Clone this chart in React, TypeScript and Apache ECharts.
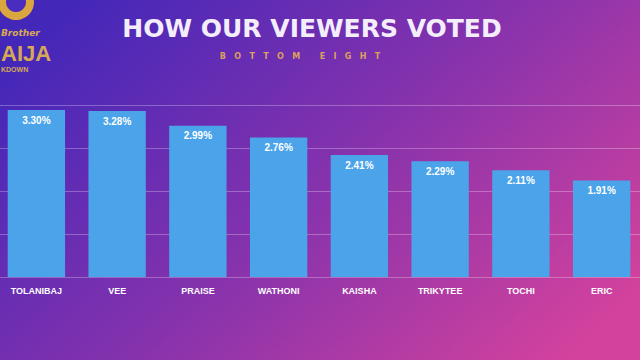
import React, { useEffect, useRef } from "react";
import * as echarts from "echarts";

const categories = ["TOLANIBAJ", "VEE", "PRAISE", "WATHONI", "KAISHA", "TRIKYTEE", "TOCHI", "ERIC"];
const votes = [3.3, 3.28, 2.99, 2.76, 2.41, 2.29, 2.11, 1.91];
const titleText = "HOW OUR VIEWERS VOTED";
const subtitleText = "B   O   T   T   O   M       E   I   G   H   T";

export default function App() {
  const ref = useRef<HTMLDivElement>(null);
  useEffect(() => {
    if (!ref.current) return;
    const chart = echarts.init(ref.current, null, { renderer: "svg" });
    chart.setOption({
      animation: false,
      backgroundColor: new echarts.graphic.LinearGradient(0, 0.2, 1, 0.8, [
        { offset: 0, color: "#4327b9" },
        { offset: 0.5, color: "#8532ad" },
        { offset: 1, color: "#d3429d" },
      ]),
      title: [
        {
          text: titleText,
          left: 311,
          top: 11,
          textAlign: "center",
          textStyle: { color: "#f4eefc", fontSize: 25, fontWeight: "bold", fontFamily: "DejaVu Sans" },
        },
        {
          text: subtitleText,
          left: 299,
          top: 47,
          textAlign: "center",
          textStyle: { color: "#dca061", fontSize: 8, fontWeight: "bold", fontFamily: "DejaVu Sans" },
        },
      ],
      graphic: [
        { type: "circle", shape: { cx: 20, cy: 2, r: 18 }, style: { fill: "#d9a640" } },
        { type: "circle", shape: { cx: 20, cy: 2, r: 10 }, style: { fill: "#4a2cbf" } },
        {
          type: "text",
          left: 5,
          top: 28,
          style: { text: "Brother", fill: "#d7a955", font: "italic bold 9px 'DejaVu Sans'" },
        },
        {
          type: "text",
          left: 5,
          top: 42,
          style: { text: "AIJA", fill: "#d7a955", font: "bold 22px 'Liberation Sans Narrow', 'Liberation Sans'" },
        },
        {
          type: "text",
          left: 5,
          top: 66,
          style: { text: "KDOWN", fill: "#d7a955", font: "bold 7px 'Liberation Sans'" },
        },
      ],
      grid: { left: 0, right: 0, top: 105, bottom: 83, containLabel: false },
      xAxis: {
        type: "category",
        data: categories,
        axisLine: { show: false },
        axisTick: { show: false },
        axisLabel: {
          color: "#ffffff",
          fontSize: 9,
          fontWeight: "bold",
          fontFamily: "Liberation Sans",
          margin: 9,
        },
      },
      yAxis: {
        type: "value",
        min: 0,
        max: 3.4,
        interval: 0.85,
        axisLabel: { show: false },
        axisLine: { show: false },
        axisTick: { show: false },
        splitLine: { lineStyle: { color: "rgba(255,255,255,0.28)", width: 1 } },
      },
      series: [
        {
          type: "bar",
          data: votes,
          barWidth: "71%",
          itemStyle: { color: "#4ba4e9" },
          label: {
            show: true,
            position: "insideTop",
            distance: 5,
            formatter: (p: any) => p.value.toFixed(2) + "%",
            color: "#ffffff",
            fontSize: 10,
            fontWeight: "bold",
            fontFamily: "Liberation Sans",
          },
        },
      ],
    });
    return () => chart.dispose();
  }, []);
  return <div ref={ref} style={{ position: "fixed", left: -4, top: 0, width: 646, height: 360 }} />;
}
